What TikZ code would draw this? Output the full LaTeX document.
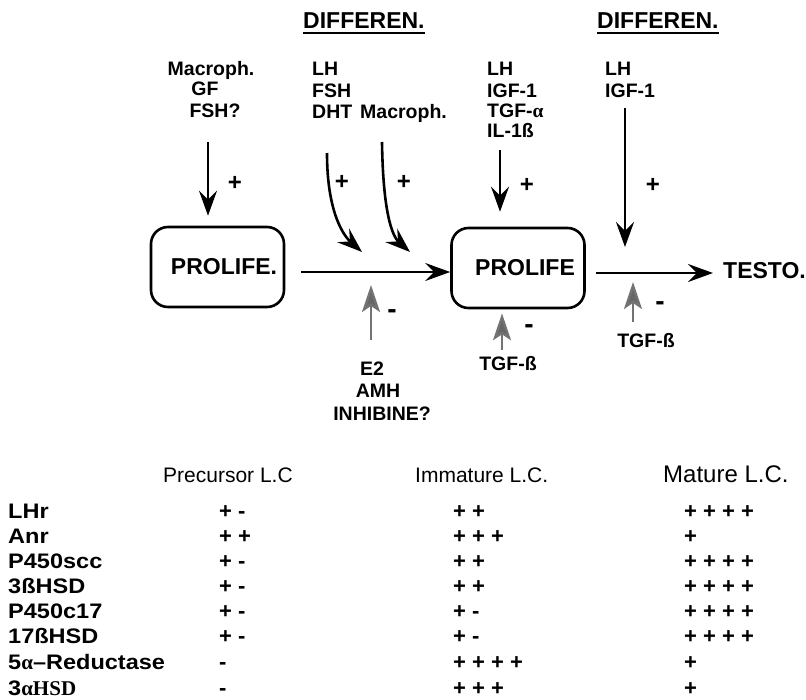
\documentclass[tikz,border=0pt]{standalone}
\usepackage{fontspec}
\setmainfont{Liberation Sans}
\newfontfamily\serif{Liberation Serif}
\newfontfamily\widesans[FakeStretch=1.12]{Liberation Sans}
\usetikzlibrary{arrows.meta}
\begin{document}
\begin{tikzpicture}[x=1pt,y=-1pt,
  lbl/.style={font=\bfseries\fontsize{19.5}{21}\selectfont, inner sep=0pt},
  big/.style={font=\bfseries\fontsize{23}{26}\selectfont, inner sep=0pt},
  box/.style={draw, line width=2.6pt, rounded corners=17pt, minimum width=133pt, minimum height=80pt, big},
  arr/.style={line width=2.6pt, -{Stealth[length=25pt,width=18pt,inset=9pt]}},
  garr/.style={line width=2.4pt, draw=black!55, -{Stealth[length=27pt,width=18pt,inset=6pt,fill=black!60]}},
  plus/.style={font=\bfseries\fontsize{24}{26}\selectfont, inner sep=0pt},
  minus/.style={font=\bfseries\fontsize{28}{30}\selectfont, inner sep=0pt},
  uline/.style={line width=2pt},
  hdr/.style={font=\fontsize{21}{24}\selectfont, inner sep=0pt, anchor=base west},
  rowl/.style={font=\widesans\bfseries\fontsize{21}{24}\selectfont, anchor=base west, inner sep=0pt},
  val/.style={font=\bfseries\fontsize{22}{24}\selectfont, anchor=base west, inner sep=0pt}
]
\useasboundingbox (0,0) rectangle (806,699);

% headings
\node[big, anchor=base west] (d1) at (303,28) {DIFFEREN.};
\node[big, anchor=base west] (d2) at (597,28) {DIFFEREN.};
\draw[uline] ([yshift=-5pt]d1.base west) -- ([yshift=-5pt]d1.base east);
\draw[uline] ([yshift=-5pt]d2.base west) -- ([yshift=-5pt]d2.base east);

% group 1
\node[lbl, anchor=base] (g1a) at (211,75) {Macroph.};
\node[lbl, anchor=base] (g1b) at (205,95) {GF};
\node[lbl, anchor=base] (g1c) at (215,117) {FSH?};
% group 2
\node[lbl, anchor=base west] (g2a) at (312,75) {LH};
\node[lbl, anchor=base west] (g2b) at (312,97) {FSH};
\node[lbl, anchor=base west] (g2c) at (312,118) {DHT};
\node[lbl, anchor=base west] (g2d) at (360,118) {Macroph.};
% group 3
\node[lbl, anchor=base west] (g3a) at (487,75) {LH};
\node[lbl, anchor=base west] (g3b) at (487,97) {IGF-1};
\node[lbl, anchor=base west] (g3c) at (487,117) {TGF-{\serif α}};
\node[lbl, anchor=base west] (g3d) at (487,137) {IL-1ß};
% group 4
\node[lbl, anchor=base west] (g4a) at (605,75) {LH};
\node[lbl, anchor=base west] (g4b) at (605,97) {IGF-1};

% boxes
\node[box] (p1) at (217.5,267) {\hspace*{13pt}PROLIFE.};
\node[box] (p2) at (518,268) {\hspace*{14pt}PROLIFE};
\node[big, anchor=west] (testo) at (723,271) {TESTO.};

% main arrows
\draw[arr, shorten <=16pt] ([yshift=-5pt]p1.east) -- ([yshift=-4pt]p2.west);
\draw[arr, shorten <=10pt, shorten >=10pt] ([yshift=-5pt]p2.east) -- ([yshift=-2pt]testo.west);

% stimulating arrows
\coordinate (a1) at (208,142);
\coordinate (a2) at (327,153);
\coordinate (a3) at (382,142);
\coordinate (a4) at (500,150);
\coordinate (a5) at (625,108);
\coordinate (m1) at (362,252);
\coordinate (m2) at (410,252);
\coordinate (m3) at (625,247);
\draw[arr, shorten >=10pt] (a1) -- (a1 |- p1.north);
\draw[arr] (a2) .. controls (327,215) and (345,237) .. (m1);
\draw[arr] (a3) .. controls (383,212) and (392,236) .. (m2);
\draw[arr, shorten >=15pt] (a4) -- (a4 |- p2.north);
\draw[arr] (a5) -- (m3);

\node[plus] (s1) at (235,183) {+};
\node[plus] (s2) at (342,182) {+};
\node[plus] (s3) at (404,182) {+};
\node[plus] (s4) at (527,185) {+};
\node[plus] (s5) at (653,185) {+};

% inhibiting arrows
\coordinate (b1) at (371,340);
\coordinate (c1) at (371,285);
\coordinate (b2) at (502,350);
\coordinate (b3) at (633,322);
\coordinate (c3) at (633,282);
\draw[garr] (b1) -- (c1);
\draw[garr, shorten >=4pt] (b2) -- (b2 |- p2.south);
\draw[garr] (b3) -- (c3);

\node[minus] (n1) at (392,314) {-};
\node[minus] (n2) at (529,329) {-};
\node[minus] (n3) at (660,306) {-};

\node[lbl, anchor=base] (e1) at (372,375) {E2};
\node[lbl, anchor=base] (e2) at (378,397) {AMH};
\node[lbl, anchor=base] (e3) at (382,420) {INHIBINE?};
\node[lbl, anchor=base] (t1) at (508,370) {TGF-ß};
\node[lbl, anchor=base] (t2) at (646,347) {TGF-ß};

% table
\node[hdr] (h1) at (163,482) {Precursor L.C};
\node[hdr] (h2) at (415,482) {Immature L.C.};
\node[hdr, font=\fontsize{24}{26}\selectfont] (h3) at (663,482) {Mature L.C.};

\foreach \yy/\lab/\pa/\pb/\pc [count=\i] in {
  518/LHr/+ -/+ +/+ + + +,
  543/Anr/+ +/+ + +/+,
  568/P450scc/+ -/+ +/+ + + +,
  593/3ßHSD/+ -/+ +/+ + + +,
  618/P450c17/+ -/+ -/+ + + +,
  643/17ßHSD/+ -/+ -/+ + + +,
  669/{5{\serif α}–Reductase}/-/+ + + +/+,
  695/{3{\serif α}{\serif\bfseries HSD}}/-/+ + +/+}
{
  \node[rowl] (lab\i) at (8,\yy) {\lab};
  \node[val] (pre\i) at (219,\yy) {\pa};
  \node[val] (imm\i) at (453,\yy) {\pb};
  \node[val] (mat\i) at (684,\yy) {\pc};
}
\end{tikzpicture}
\end{document}
